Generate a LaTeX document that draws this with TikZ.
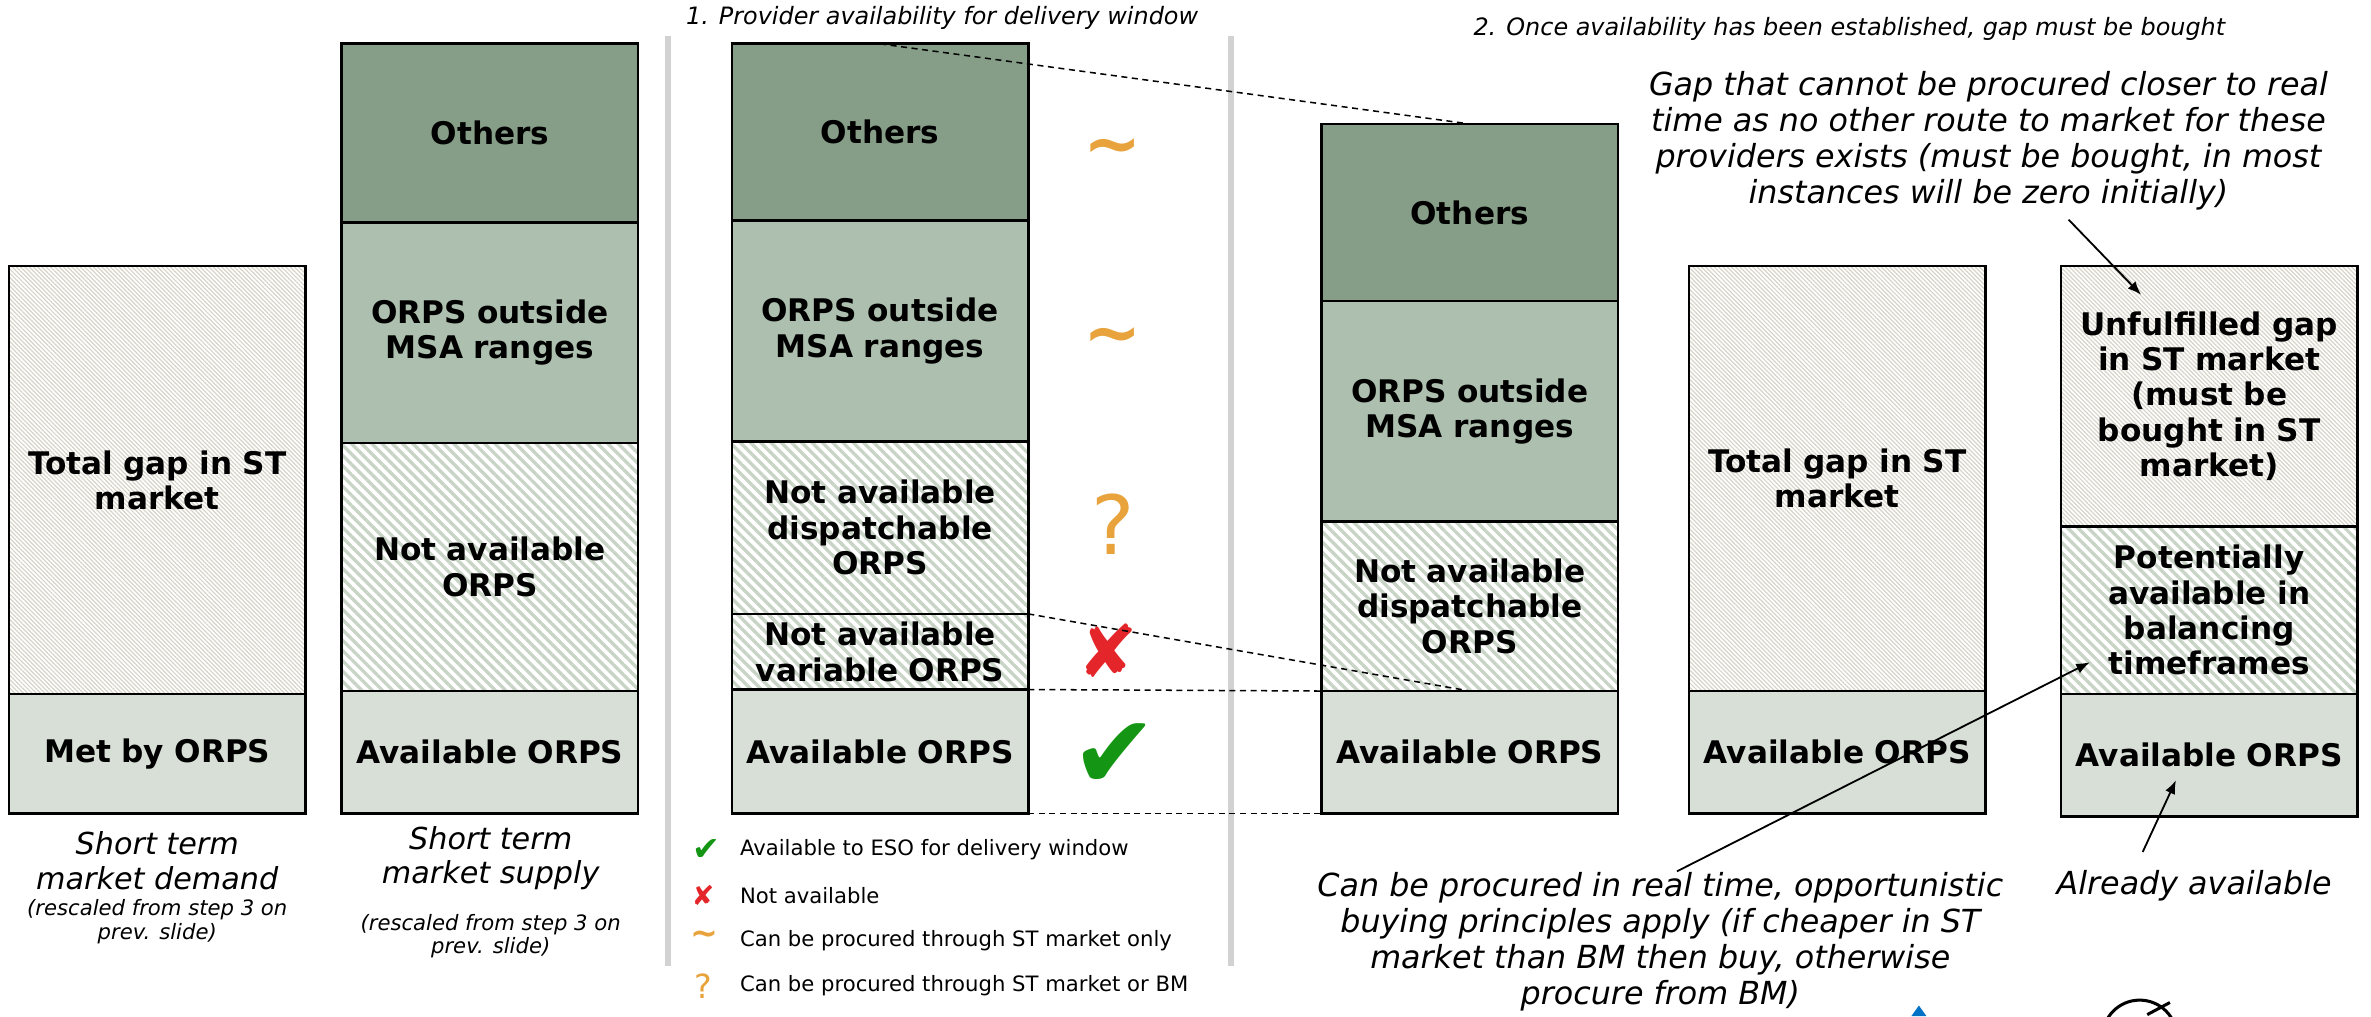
\documentclass[tikz,border=0pt]{standalone}
\usepackage{fontspec}
\setmainfont{DejaVu Sans}
\usetikzlibrary{arrows.meta,positioning,patterns.meta}
\definecolor{othersgreen}{RGB}{134,158,135}
\definecolor{outsidegreen}{RGB}{173,191,174}
\definecolor{availgreen}{RGB}{216,223,215}
\definecolor{hatchgreen}{RGB}{200,212,198}
\definecolor{gapgrey}{RGB}{214,212,200}
\definecolor{sepgrey}{RGB}{210,210,210}
\definecolor{symorange}{RGB}{232,163,60}
\definecolor{symred}{RGB}{228,38,42}
\definecolor{symgreen}{RGB}{20,150,20}
\definecolor{logoblue}{RGB}{0,114,198}

\tikzset{
  blk/.style={draw, line width=0.9pt, outer sep=0pt, inner sep=1pt, minimum width=98pt,
    text width=94pt, align=center, font=\fontsize{10.3}{11.7}\selectfont\bfseries},
  others/.style={blk, fill=othersgreen},
  outside/.style={blk, fill=outsidegreen},
  avail/.style={blk, fill=availgreen},
  notavail/.style={blk, pattern={Lines[angle=-45,distance=2.4pt,line width=1.1pt]}, pattern color=hatchgreen},
  gap/.style={blk, pattern={Lines[angle=-45,distance=1pt,line width=0.4pt]}, pattern color=gapgrey},
  capbig/.style={align=center, inner sep=0pt, font=\fontsize{10}{11.5}\selectfont\itshape},
  capsmall/.style={align=center, inner sep=0pt, font=\fontsize{7}{7.8}\selectfont\itshape},
  steptitle/.style={inner sep=0pt, font=\fontsize{7.9}{9}\selectfont\itshape},
  note/.style={align=center, inner sep=0pt, font=\fontsize{10.5}{11.9}\selectfont\itshape},
  legtext/.style={anchor=west, inner sep=0pt, font=\fontsize{7}{8}\selectfont},
  symbox/.style={inner sep=0pt, font=\fontsize{#1}{#1}\selectfont},
  tildesym/.style={inner sep=0pt, text=symorange, font=\fontsize{#1}{#1}\selectfont\bfseries},
  link/.style={dash pattern=on 2pt off 1.5pt, line width=0.5pt},
  arr/.style={-{Latex[length=4.5pt,width=3.5pt]}, line width=0.6pt},
  sepline/.style={line width=2pt, draw=sepgrey},
}

\begin{document}
\begin{tikzpicture}[x=0.5pt, y=-0.5pt]
  \useasboundingbox (0,0) rectangle (1568,672);

  % separators
  \draw[sepline] (442,24) -- (442,639);
  \draw[sepline] (814,24) -- (814,639);

  % demand
  \node[gap, minimum height=141.5pt, anchor=north west] (demgap) at (6,176) {Total gap in ST\\market};
  \node[avail, minimum height=39.5pt, below=0pt of demgap] (demmet) {Met by ORPS};
  \node[capbig] (demcap) at (104,569) {Short term\\market demand};
  \node[capsmall] (demnote) at (104,609.5) {(rescaled from step 3 on\\prev. slide)};

  % supply
  \node[others, minimum height=59pt, anchor=north west] (supoth) at (226,29) {Others};
  \node[outside, minimum height=73pt, below=0pt of supoth] (supout) {ORPS outside\\MSA ranges};
  \node[notavail, minimum height=82pt, below=0pt of supout] (supna) {Not available\\ORPS};
  \node[avail, minimum height=40.5pt, below=0pt of supna] (supav) {Available ORPS};
  \node[capbig] (supcap) at (324.5,567.5) {Short term\\market supply};
  \node[capsmall] (supnote) at (324.5,619) {(rescaled from step 3 on\\prev. slide)};

  % step 1
  \node[steptitle] (onetitle) at (623,12) {1. Provider availability for delivery window};
  \node[others, minimum height=58.5pt, anchor=north west] (onoth) at (484,29) {Others};
  \node[outside, minimum height=73pt, below=0pt of onoth] (onout) {ORPS outside\\MSA ranges};
  \node[notavail, minimum height=57pt, below=0pt of onout] (ondisp) {Not available\\dispatchable\\ORPS};
  \node[notavail, minimum height=25pt, below=0pt of ondisp] (onvar) {Not available\\variable ORPS};
  \node[avail, minimum height=41pt, below=0pt of onvar] (onav) {Available ORPS};

  \node[tildesym=23] (othsym) at (736,101) {\textasciitilde};
  \node[tildesym=23] (outsym) at (736,226) {\textasciitilde};
  \node[symbox=27, text=symorange] (dispsym) at (736,347) {?};
  \node[symbox=24, text=symred] (varsym) at (733,430) {✘};
  \node[symbox=34, text=symgreen] (avsym) at (737,500) {✔};

  % legend
  \node[symbox=11, text=symgreen] (legoksym) at (467,562) {✔};
  \node[symbox=9, text=symred] (legnosym) at (465,592) {✘};
  \node[tildesym=11] (legstsym) at (466,620) {\textasciitilde};
  \node[symbox=11, text=symorange] (legbmsym) at (465,652) {?};
  \node[legtext] (legok) at (489,562) {Available to ESO for delivery window};
  \node[legtext] (legno) at (489,592) {Not available};
  \node[legtext] (legst) at (489,622) {Can be procured through ST market only};
  \node[legtext] (legbm) at (489,652) {Can be procured through ST market or BM};

  % step 2
  \node[steptitle] (twotitle) at (1223,19) {2. Once availability has been established, gap must be bought};
  \node[others, minimum height=58.5pt, anchor=north west] (twooth) at (874,82) {Others};
  \node[outside, minimum height=73pt, below=0pt of twooth] (twoout) {ORPS outside\\MSA ranges};
  \node[notavail, minimum height=56pt, below=0pt of twoout] (twodisp) {Not available\\dispatchable\\ORPS};
  \node[avail, minimum height=40.5pt, below=0pt of twodisp] (twoav) {Available ORPS};

  \node[gap, minimum height=140.5pt, anchor=north west] (stgap) at (1117,176) {Total gap in ST\\market};
  \node[avail, minimum height=40.5pt, below=0pt of stgap] (stav) {Available ORPS};

  \node[gap, minimum height=86pt, anchor=north west] (unful) at (1363,176) {Unfulfilled gap\\in ST market\\(must be\\bought in ST\\market)};
  \node[notavail, minimum height=55.5pt, below=0pt of unful] (potav) {Potentially\\available in\\balancing\\timeframes};
  \node[avail, minimum height=40.5pt, below=0pt of potav] (bmav) {Available ORPS};

  % links step 1 -> step 2
  \draw[link] (onoth.north) -- (twooth.north);
  \draw[link] (ondisp.south east) -- (twodisp.south);
  \draw[link] (onvar.south east) -- (twodisp.south west);
  \draw[link] (onav.south east) -- (twoav.south west);

  % notes
  \node[note] (gapnote) at (1315,93) {Gap that cannot be procured closer to real\\time as no other route to market for these\\providers exists (must be bought, in most\\instances will be zero initially)};
  \node[note] (rtnote) at (1098,622.5) {Can be procured in real time, opportunistic\\buying principles apply (if cheaper in ST\\market than BM then buy, otherwise\\procure from BM)};
  \node[note] (avnote) at (1451,586) {Already available};

  \coordinate (unfultip) at (1416,195);
  \coordinate (pottip) at (1382,438);
  \coordinate (bmtip) at (1439,516);
  \draw[arr] ([xshift=26.5pt,yshift=-3pt]gapnote.south) -- (unfultip);
  \draw[arr] ([xshift=5.5pt]rtnote.north) -- (pottip);
  \draw[arr] ([xshift=-17pt,yshift=6pt]avnote.north) -- (bmtip);

  % logo fragments at the lower edge
  \fill[logoblue] (1264,672) -- (1269,665) -- (1274,672) -- cycle;
  \draw[line width=1pt] (1415,686) circle[radius=24.6];
  \draw[line width=1pt] (1420,671) -- (1435,663);
\end{tikzpicture}
\end{document}
